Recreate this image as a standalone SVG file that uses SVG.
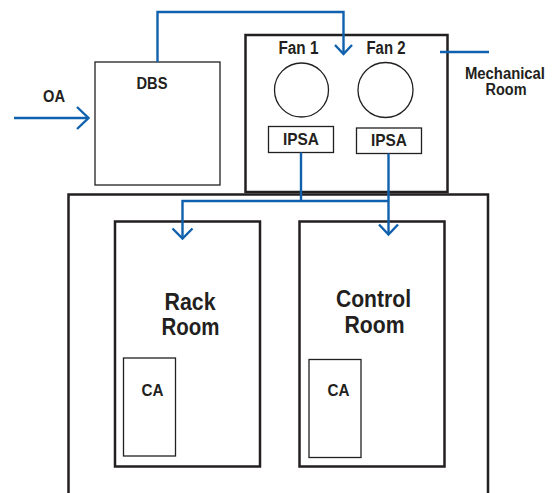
<svg xmlns="http://www.w3.org/2000/svg" width="554" height="493" viewBox="0 0 554 493">
<style>
.thick{fill:none;stroke:#231f20;stroke-width:2.5}
.thin{fill:none;stroke:#231f20;stroke-width:1.3}
.flow{fill:none;stroke:#1061ad;stroke-width:2.4}
.head{fill:none;stroke:#1061ad;stroke-width:2.4;stroke-linecap:butt}
text{font-family:"Liberation Sans",Arial,sans-serif;font-weight:bold;fill:#231f20;text-anchor:middle}
.sm{font-size:16.5px}
.fan{font-size:18px}
.md{font-size:16px}
.lg{font-size:23px}
</style>
<rect width="554" height="493" fill="#fff"/>
<g id="building"><path class="thick" d="M68.5,493 V194.5 H488 V493"/></g>
<g id="dbs"><rect class="thin" x="95" y="62" width="125" height="123"/><text class="sm" x="152" y="89" textLength="31" lengthAdjust="spacingAndGlyphs">DBS</text></g>
<g id="mech-room"><rect class="thick" x="245.5" y="35" width="202" height="157"/></g>
<g id="fan1"><circle class="thin" cx="301.5" cy="90" r="27"/><text class="fan" x="298.5" y="54" textLength="40" lengthAdjust="spacingAndGlyphs">Fan 1</text></g>
<g id="fan2"><circle class="thin" cx="385.5" cy="90" r="27.5"/><text class="fan" x="386" y="54" textLength="39" lengthAdjust="spacingAndGlyphs">Fan 2</text></g>
<g id="ipsa1"><rect class="thin" x="268.5" y="126.5" width="65" height="26"/><text class="sm" x="301" y="144.5" textLength="36" lengthAdjust="spacingAndGlyphs">IPSA</text></g>
<g id="ipsa2"><rect class="thin" x="356.5" y="128" width="65" height="25.5"/><text class="sm" x="389" y="146" textLength="36" lengthAdjust="spacingAndGlyphs">IPSA</text></g>
<g id="rack-room"><rect class="thick" x="115" y="221.5" width="145" height="245"/><text class="lg" x="190" y="309.5" textLength="51" lengthAdjust="spacingAndGlyphs">Rack</text><text class="lg" x="190.5" y="335" textLength="58" lengthAdjust="spacingAndGlyphs">Room</text></g>
<g id="control-room"><rect class="thick" x="299.5" y="221.5" width="145" height="245"/><text class="lg" x="373.5" y="306.5" textLength="75" lengthAdjust="spacingAndGlyphs">Control</text><text class="lg" x="374.5" y="333" textLength="60" lengthAdjust="spacingAndGlyphs">Room</text></g>
<g id="ca1"><rect class="thin" x="123.5" y="358" width="52" height="98"/><text class="sm" x="152.5" y="396" textLength="22" lengthAdjust="spacingAndGlyphs">CA</text></g>
<g id="ca2"><rect class="thin" x="309" y="359.5" width="52" height="98"/><text class="sm" x="338.5" y="396" textLength="22" lengthAdjust="spacingAndGlyphs">CA</text></g>
<g id="labels"><text class="sm" x="54" y="102" textLength="22" lengthAdjust="spacingAndGlyphs">OA</text><text class="md" x="505" y="79" textLength="80" lengthAdjust="spacingAndGlyphs">Mechanical</text><text class="md" x="506" y="95" textLength="41" lengthAdjust="spacingAndGlyphs">Room</text></g>
<g id="connectors">
<path class="flow" d="M14,118 H88"/>
<path class="head" d="M77,107 L88.5,118 L77,129"/>
<path class="flow" d="M157.5,62 V12 H343.5 V53"/>
<path class="head" d="M335,45 L343.5,54 L352,45"/>
<path class="flow" d="M440,52 H489"/>
<path class="flow" d="M301,152.5 V201 M388.5,153.5 V234 M182.5,237 V201 H388.5"/>
<path class="head" d="M172.5,228.5 L182.5,238.5 L192.5,228.5"/>
<path class="head" d="M379,224.5 L388.5,234.5 L398,224.5"/>
</g>
</svg>
